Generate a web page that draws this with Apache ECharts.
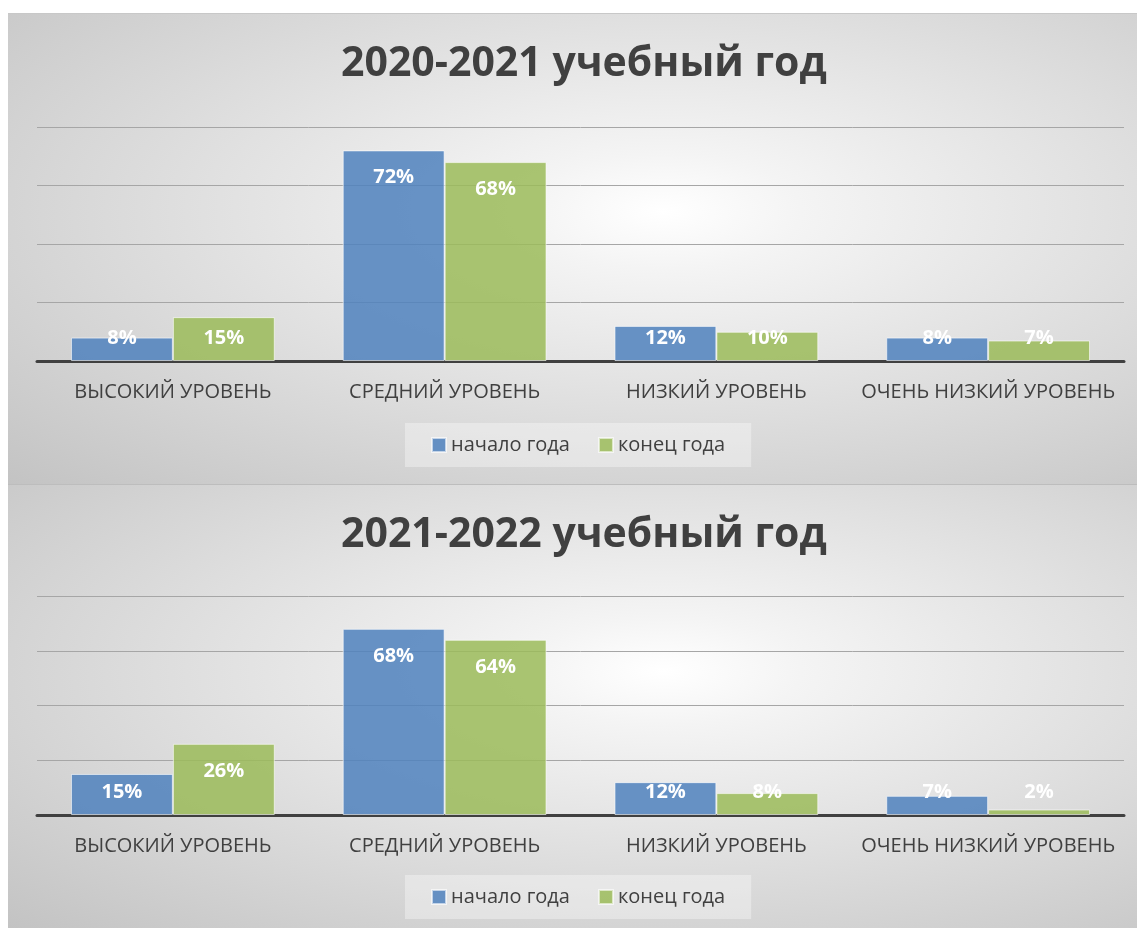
<!DOCTYPE html>
<html>
<head>
<meta charset="utf-8">
<script src="https://cdn.jsdelivr.net/npm/echarts@6/dist/echarts.min.js"></script>
<style>
  body { margin: 0; background: #fff; }
  .panel {
    position: absolute;
    left: 8px;
    width: 1129px;
    background: radial-gradient(ellipse farthest-corner at 58% 42%, #ffffff 0%, #f4f4f4 15%, #c3c3c3 100%);
  }
  #chart1 { top: 13px; height: 470px; border-top: 1px solid #c8c8c8; border-bottom: 1px solid #bdbdbd; }
  #chart2 { top: 485px; height: 443px; }
</style>
</head>
<body>
<div id="chart1" class="panel"></div>
<div id="chart2" class="panel"></div>
<script>
// категории и значения (в %)
const levels = ['ВЫСОКИЙ УРОВЕНЬ', 'СРЕДНИЙ УРОВЕНЬ', 'НИЗКИЙ УРОВЕНЬ', 'ОЧЕНЬ НИЗКИЙ УРОВЕНЬ']
const seriesNames = ['начало года', 'конец года']

const title1 = '2020-2021 учебный год'
const start1 = [8, 72, 12, 8]
const end1 = [15, 68, 10, 7]

const title2 = '2021-2022 учебный год'
const start2 = [15, 68, 12, 7]
const end2 = [26, 64, 8, 2]

const blue = 'rgba(79,129,189,0.85)'
const green = 'rgba(155,187,89,0.85)'
const font = '"Open Sans", sans-serif'

// у низких столбцов подпись уходит к основанию, как в Excel
const withLabels = (arr) => arr.map(v => {
  if (v < 18) {
    return {value: v, label: {position: 'insideBottom', distance: 13}}
  }
  return v
})

const makeSeries = (name, data, color) => ({
  name: name,
  type: 'bar',
  data: withLabels(data),
  barGap: 0,
  barCategoryGap: '25%',
  itemStyle: {
    color: color,
    borderColor: 'rgba(255,255,255,0.6)',
    borderWidth: 1
  },
  label: {
    show: true,
    position: 'insideTop',
    distance: 17,
    formatter: '{c}%',
    color: '#fff',
    fontFamily: font,
    fontWeight: 'bold',
    fontSize: 20
  }
})

const makeOption = (title, start, end, grid, legendTop) => ({
  animation: false,
  title: {
    text: title,
    left: 328,
    top: 25,
    textStyle: {
      fontFamily: font,
      fontWeight: 'bold',
      fontSize: 41,
      color: '#404040'
    }
  },
  legend: {
    data: seriesNames,
    top: legendTop,
    left: 397,
    icon: 'rect',
    itemWidth: 14,
    itemHeight: 14,
    itemGap: 28,
    padding: [12, 26],
    backgroundColor: 'rgba(255,255,255,0.35)',
    textStyle: {
      fontFamily: font,
      fontSize: 20,
      color: '#404040'
    }
  },
  grid: grid,
  xAxis: {
    type: 'category',
    data: levels,
    axisTick: {show: false},
    axisLine: {lineStyle: {color: '#404040', width: 3}},
    axisLabel: {
      interval: 0,
      margin: 21,
      fontFamily: font,
      fontSize: 20,
      color: '#404040'
    }
  },
  yAxis: {
    type: 'value',
    min: 0,
    max: 80,
    interval: 20,
    axisLabel: {show: false},
    splitLine: {lineStyle: {color: '#a6a6a6', width: 1}}
  },
  series: [
    makeSeries(seriesNames[0], start, blue),
    makeSeries(seriesNames[1], end, green)
  ]
})

const chart1 = echarts.init(document.getElementById('chart1'))
chart1.setOption(makeOption(title1, start1, end1,
  {left: 29, right: 13, top: 113, bottom: 123}, 409))

const chart2 = echarts.init(document.getElementById('chart2'))
chart2.setOption(makeOption(title2, start2, end2,
  {left: 29, right: 13, top: 111, bottom: 113}, 390))
</script>
</body>
</html>
